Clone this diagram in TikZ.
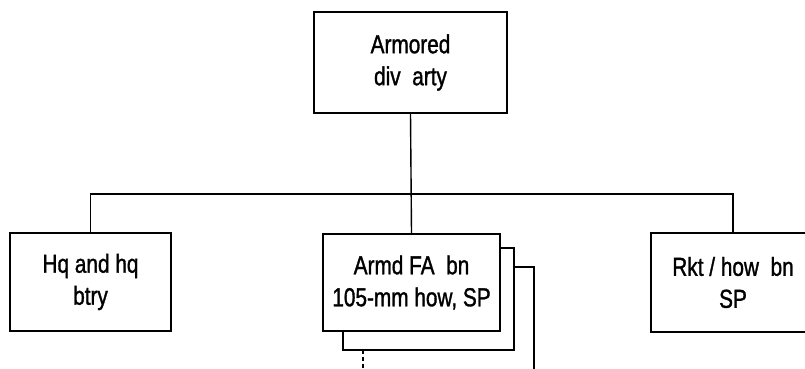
\documentclass[tikz,border=0pt]{standalone}
\usepackage{fontspec}
\setmainfont{Liberation Sans}[FakeStretch=0.8,FakeBold=1.2]
\begin{document}
\begin{tikzpicture}[x=1pt,y=-1pt,line width=1.7pt,
  unitbox/.style={draw,line width=1.7pt,align=center,inner sep=0pt,
    font=\fontsize{26}{32}\selectfont},
  conn/.style={line width=1.4pt}]
\useasboundingbox (0,0) rectangle (805,369);
\fill[white] (0,0) rectangle (805,369);
\begin{scope}
\clip (0,0) rectangle (805,369);
% boxes
\node[unitbox,minimum width=193pt,minimum height=101pt] (div) at (410.5,62.5) {Armored\\div\ \ arty};
\node[unitbox,minimum width=161pt,minimum height=98pt] (hq) at (90.5,282) {Hq and hq\\btry};
\node[unitbox,minimum width=177pt,minimum height=97pt] (fa) at (411.5,282.5) {Armd FA\ \ bn\\105-mm how, SP};
\node[unitbox,minimum width=164pt,minimum height=99pt] (rkt) at (733,282.5) {Rkt / how\ \ bn\\SP};
% stacked copies behind the FA box
\coordinate (b2a) at (500,248);
\coordinate (b2b) at (514,248);
\coordinate (b2c) at (514,350);
\coordinate (b2d) at (343,350);
\coordinate (b2e) at (343,331);
\draw (b2a) -- (b2b) -- (b2c) -- (b2d) -- (b2e);
\coordinate (b3a) at (514,267);
\coordinate (b3b) at (534,267);
\coordinate (b3c) at (534,372);
\draw (b3a) -- (b3b) -- (b3c);
\coordinate (b3l) at (363,350);
\coordinate (b3m) at (363,372);
\draw[line width=1.2pt,dash pattern=on 4pt off 3pt] (b3l) -- (b3m);
% connectors
\coordinate (junc) at (410.5,194);
\draw[conn] (div.south) -- (fa.north);
\draw[conn] (hq.north) |- (junc) -| (rkt.north);
\end{scope}
\end{tikzpicture}
\end{document}
